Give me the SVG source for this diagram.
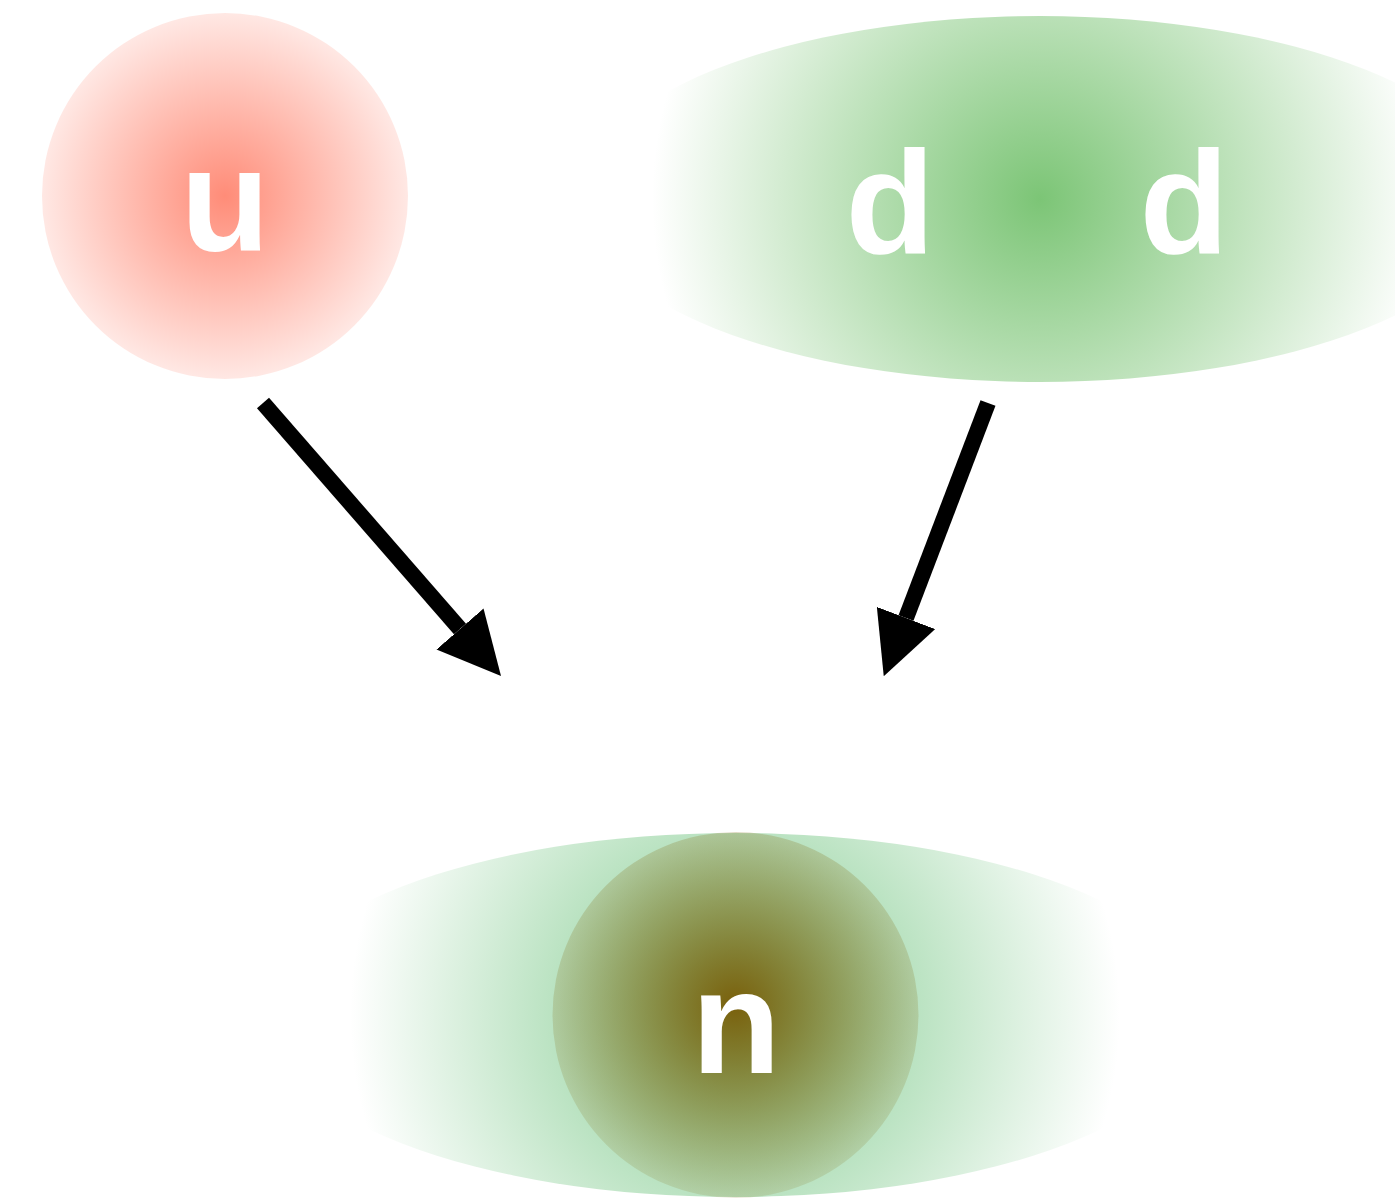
<svg xmlns="http://www.w3.org/2000/svg" width="1395" height="1199" viewBox="0 0 1395 1199">
<style>
.lbl{font-family:"Liberation Sans",Arial,sans-serif;font-weight:bold;font-size:146px;fill:#ffffff;text-anchor:middle}
.edge{stroke:#000;stroke-width:16;fill:none;marker-end:url(#head)}
</style>
<defs>
<marker id="head" viewBox="0 0 10 10" refX="0" refY="5" markerWidth="3.9" markerHeight="3.9" orient="auto" markerUnits="strokeWidth">
<path d="M0,0 L10,5 L0,10 z" fill="#000"/>
</marker>
<radialGradient id="gRed" gradientUnits="userSpaceOnUse" cx="225" cy="196" r="229">
<stop offset="0" stop-color="#ff8c78" stop-opacity="1"/>
<stop offset="1" stop-color="#ff8c78" stop-opacity="0"/>
</radialGradient>
<radialGradient id="gGreenTop" gradientUnits="userSpaceOnUse" cx="1040" cy="199" r="388">
<stop offset="0" stop-color="#7cc576" stop-opacity="1"/>
<stop offset="1" stop-color="#7cc576" stop-opacity="0"/>
</radialGradient>
<radialGradient id="gGreenBot" gradientUnits="userSpaceOnUse" cx="735" cy="1015" r="385">
<stop offset="0" stop-color="#7cc98a" stop-opacity="1"/>
<stop offset="1" stop-color="#7cc98a" stop-opacity="0"/>
</radialGradient>
<radialGradient id="gBrown" gradientUnits="userSpaceOnUse" cx="735" cy="1005" r="215">
<stop offset="0" stop-color="#7a600c" stop-opacity="1"/>
<stop offset="1" stop-color="#8a7a2a" stop-opacity="0.08"/>
</radialGradient>
</defs>
<g id="node-u">
<circle cx="225" cy="196" r="183" fill="url(#gRed)"/>
<text class="lbl" x="225" y="251">u</text>
</g>
<g id="node-dd">
<ellipse cx="1040" cy="199" rx="460" ry="183" fill="url(#gGreenTop)"/>
<text class="lbl" x="890" y="253">d</text>
<text class="lbl" x="1184" y="253">d</text>
</g>
<g id="node-n">
<ellipse cx="735" cy="1015" rx="470" ry="182" fill="url(#gGreenBot)"/>
<circle cx="735.5" cy="1015" r="183" fill="url(#gBrown)"/>
<text class="lbl" x="736" y="1073">n</text>
</g>
<g id="connectors">
<line class="edge" x1="263" y1="403" x2="460" y2="629"/>
<line class="edge" x1="988" y1="403" x2="906" y2="618"/>
</g>
</svg>
